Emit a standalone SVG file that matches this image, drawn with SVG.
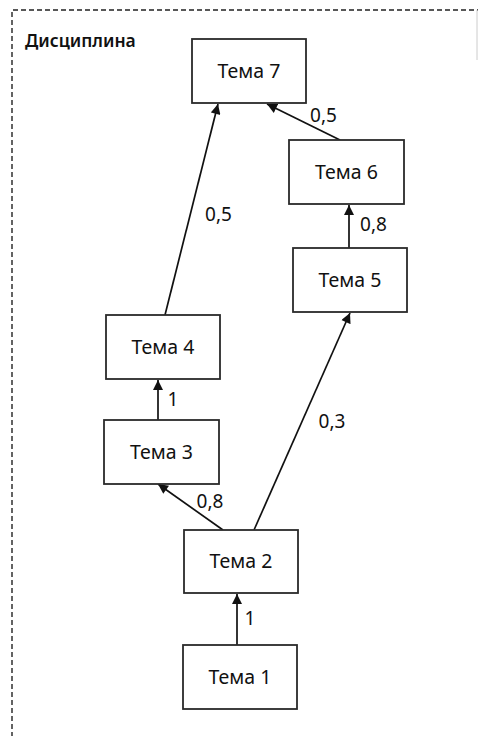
<svg xmlns="http://www.w3.org/2000/svg" width="478" height="736" viewBox="0 0 478 736">
  <style>
    .box { fill: #ffffff; stroke: #2a2a2a; stroke-width: 1.8; }
    .lbl { font-family: "Noto Sans", "Liberation Sans", sans-serif; font-size: 19.5px; fill: #111111; text-anchor: middle; }
    .w { font-family: "Noto Sans", "Liberation Sans", sans-serif; font-size: 19px; fill: #111111; text-anchor: middle; }
    .edge { stroke: #111111; stroke-width: 1.7; fill: none; marker-end: url(#arrow); }
    .frame { fill: none; stroke: #222222; stroke-width: 1.4; stroke-dasharray: 5 3; }
    .title { font-family: "Noto Sans", "Liberation Sans", sans-serif; font-size: 17.5px; font-weight: 600; fill: #111111; }
  </style>
  <defs>
    <marker id="arrow" viewBox="0 0 10 10" refX="10" refY="5" markerWidth="11" markerHeight="10" markerUnits="userSpaceOnUse" orient="auto">
      <path d="M0,0 L10,5 L0,10 Z" fill="#111111"/>
    </marker>
  </defs>
  <rect width="478" height="736" fill="#ffffff"/>

  <!-- discipline frame -->
  <path class="frame" d="M12,745 L12,10 L478,10"/>
  <line x1="477" y1="10" x2="477" y2="60" stroke="#cccccc" stroke-width="1"/>
  <text class="title" x="25" y="47">Дисциплина</text>

  <!-- connectors -->
  <g id="connectors">
    <line class="edge" x1="237" y1="645" x2="237" y2="594"/>
    <line class="edge" x1="223" y1="530" x2="158" y2="484"/>
    <line class="edge" x1="254" y1="530" x2="350" y2="313"/>
    <line class="edge" x1="158" y1="420" x2="158" y2="380"/>
    <line class="edge" x1="165" y1="315" x2="218" y2="104"/>
    <line class="edge" x1="340" y1="140" x2="267" y2="104"/>
    <line class="edge" x1="349" y1="248" x2="349" y2="205"/>
    <text class="w" x="218.5" y="221">0,5</text>
    <text class="w" x="323.5" y="122">0,5</text>
    <text class="w" x="373.5" y="231">0,8</text>
    <text class="w" x="332" y="428">0,3</text>
    <text class="w" x="210" y="508">0,8</text>
    <text class="w" x="173" y="406">1</text>
    <text class="w" x="250" y="625">1</text>
  </g>

  <g id="tema7"><rect class="box" x="192" y="39" width="114" height="64"/><text class="lbl" x="249" y="78">Тема 7</text></g>
  <g id="tema6"><rect class="box" x="289" y="140" width="115" height="64"/><text class="lbl" x="346.5" y="179">Тема 6</text></g>
  <g id="tema5"><rect class="box" x="293" y="248" width="114" height="64"/><text class="lbl" x="350" y="287">Тема 5</text></g>
  <g id="tema4"><rect class="box" x="106" y="315" width="114" height="64"/><text class="lbl" x="163" y="354">Тема 4</text></g>
  <g id="tema3"><rect class="box" x="104" y="420" width="115" height="64"/><text class="lbl" x="161.5" y="459">Тема 3</text></g>
  <g id="tema2"><rect class="box" x="184" y="530" width="114" height="63"/><text class="lbl" x="241" y="568">Тема 2</text></g>
  <g id="tema1"><rect class="box" x="183" y="645" width="114" height="64"/><text class="lbl" x="240" y="684">Тема 1</text></g>
</svg>
